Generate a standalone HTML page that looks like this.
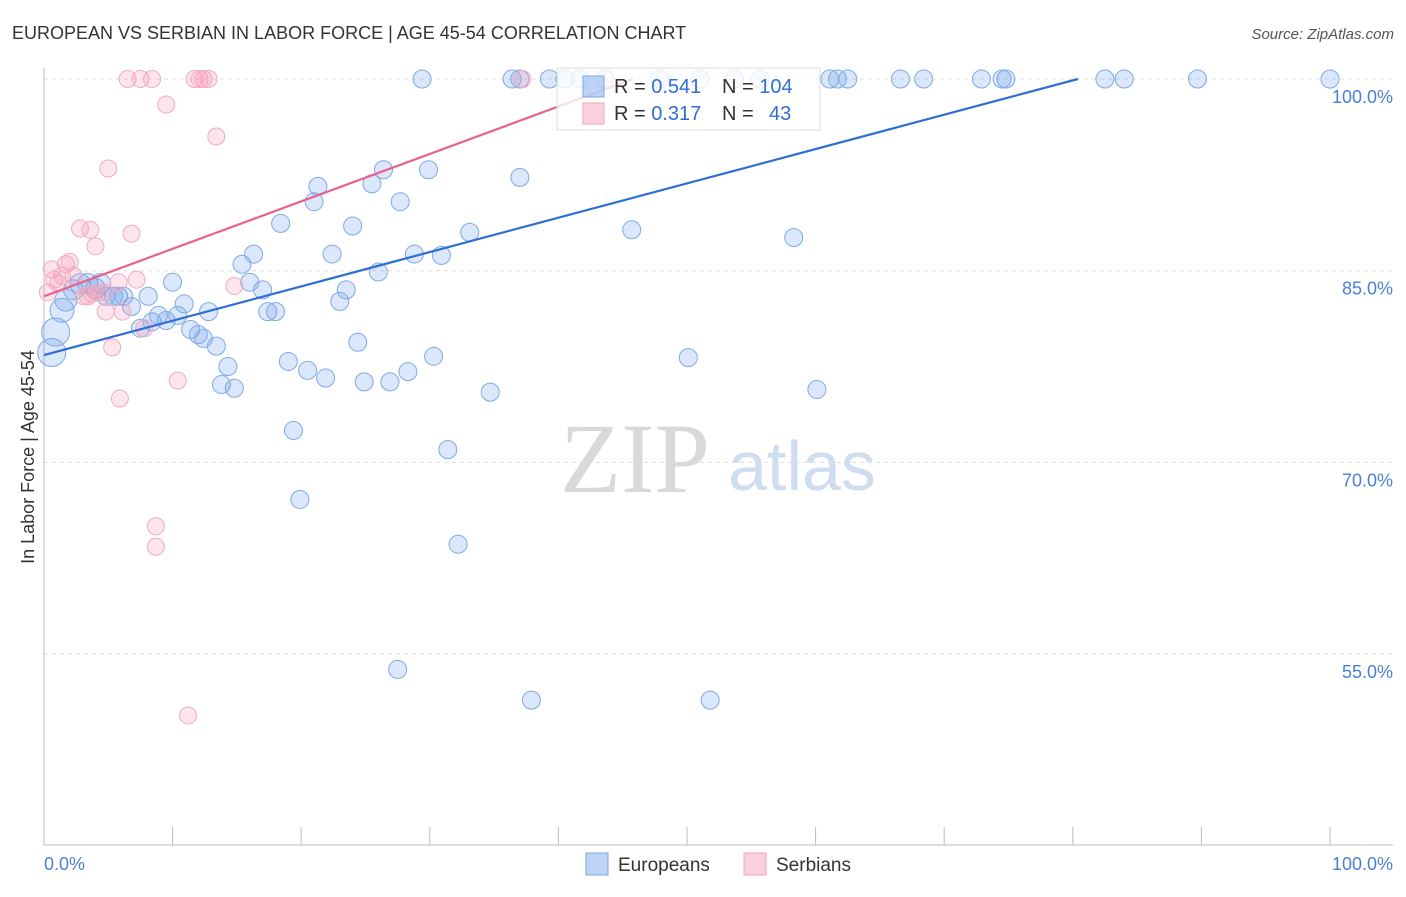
<!DOCTYPE html>
<html><head><meta charset="utf-8"><style>
body{margin:0;background:#fff;font-family:"Liberation Sans",sans-serif}
</style></head><body>
<svg width="1406" height="892" viewBox="0 0 1406 892" font-family="Liberation Sans, sans-serif">
<text x="12" y="39" font-size="18" fill="#333">EUROPEAN VS SERBIAN IN LABOR FORCE | AGE 45-54 CORRELATION CHART</text>
<text x="1394" y="39" font-size="15" fill="#555" font-style="italic" text-anchor="end">Source: ZipAtlas.com</text>
<text x="635" y="492" font-size="100" fill="#d9d9d9" style="font-family:'Liberation Serif',serif" text-anchor="middle">ZIP</text>
<text x="802" y="490" font-size="70" fill="#cfdcf2" text-anchor="middle">atlas</text>
<g id="grid"></g>
<g id="axes"></g>
<g id="pts"></g>
<g id="lines"></g>
<text transform="translate(34,457) rotate(-90)" font-size="18" fill="#333" text-anchor="middle">In Labor Force | Age 45-54</text>
<text x="44" y="870" font-size="18" fill="#4a7fd6">0.0%</text>
<text x="1393" y="870" font-size="18" fill="#4a7fd6" text-anchor="end">100.0%</text>
<g>
<rect x="557" y="68" width="263" height="62" fill="rgba(255,255,255,0.8)" stroke="#ddd"/>
<rect x="583" y="76" width="21" height="21" fill="rgba(110,160,235,0.45)" stroke="#7aa6e6"/>
<rect x="583" y="103" width="21" height="21" fill="rgba(245,150,180,0.45)" stroke="#f2a6bd"/>
<text x="614" y="93" font-size="20" fill="#333">R = <tspan fill="#2e6fd4">0.541</tspan></text>
<text x="722" y="93" font-size="20" fill="#333">N = <tspan fill="#2e6fd4">104</tspan></text>
<text x="614" y="120" font-size="20" fill="#333">R = <tspan fill="#2e6fd4">0.317</tspan></text>
<text x="722" y="120" font-size="20" fill="#333">N = <tspan fill="#2e6fd4" x="769">43</tspan></text>
</g>
<g>
<rect x="586" y="853" width="22" height="22" fill="rgba(110,160,235,0.45)" stroke="#7aa6e6"/>
<text x="618" y="871" font-size="19" fill="#333">Europeans</text>
<rect x="744" y="853" width="22" height="22" fill="rgba(245,150,180,0.45)" stroke="#f2a6bd"/>
<text x="776" y="871" font-size="19" fill="#333">Serbians</text>
</g>
</svg>
<script>
const yTicks=[100,85,70,55];
const yTickLabels=["100.0%","85.0%","70.0%","55.0%"];
const xTicks=[0,10,20,30,40,50,60,70,80,90,100];
const euroX=[29.4,36.4,37.0,39.3,40.5,41.7,43.6,47.9,51.0,53.7,55.7,61.1,61.7,62.5,66.6,68.4,72.9,74.5,74.8,82.5,84.0,89.7,100,
0.6,0.9,1.4,1.7,2.3,2.8,3.4,4.0,4.4,4.8,5.4,5.8,6.2,6.8,7.5,8.1,8.4,8.9,9.5,10.0,10.4,10.9,11.4,12.0,12.4,12.8,13.4,13.8,14.3,14.8,15.4,16.0,16.3,17.0,17.4,18.0,18.4,19.0,19.4,19.9,20.5,21.0,21.3,21.9,22.4,23.0,23.5,24.0,24.4,24.9,25.5,26.0,26.4,26.9,27.7,27.5,28.3,28.8,29.9,30.3,30.9,31.4,32.2,33.1,34.7,37.0,37.9,45.7,50.1,51.8,58.3,60.1];
const euroY=[100,100,100,100,100,100,100,100,100,100,100,100,100,100,100,100,100,100,100,100,100,100,100,
78.6,80.2,81.9,82.7,83.5,84.0,84.0,83.6,84.0,83.0,83.0,83.0,83.0,82.2,80.5,83.0,81.0,81.5,81.1,84.1,81.5,82.4,80.4,80.0,79.7,81.8,79.1,76.1,77.5,75.8,85.5,84.1,86.3,83.5,81.8,81.8,88.7,77.9,72.5,67.1,77.2,90.4,91.6,76.6,86.3,82.6,83.5,88.5,79.4,76.3,91.8,84.9,92.9,76.3,90.4,53.8,77.1,86.3,92.9,78.3,86.2,71.0,63.6,88.0,75.5,92.3,51.4,88.2,78.2,51.4,87.6,75.7];
const euroR=[9,9,9,9,9,9,9,9,9,9,9,9,9,9,9,9,9,9,9,9,9,9,9,14,14,12,11,10,10,10,10,10,9,9,9,9,9,9,9,9,9,9,9,9,9,9,9,9,9,9,9,9,9,9,9,9,9,9,9,9,9,9,9,9,9,9,9,9,9,9,9,9,9,9,9,9,9,9,9,9,9,9,9,9,9,9,9,9,9,9,9,9,9,9,9];
const serbX=[0.3,0.6,0.8,1.1,1.4,1.7,2.0,2.3,2.8,3.1,3.4,3.6,3.7,4.0,4.2,4.7,4.8,5.0,5.3,5.8,5.9,6.1,6.5,6.8,7.2,7.5,7.8,8.4,8.7,8.7,9.5,10.4,11.2,11.7,12.1,12.4,12.8,13.4,14.8,37.2];
const serbY=[83.3,85.1,84.3,84.0,84.6,85.5,85.7,84.6,88.3,83.0,83.0,88.2,83.2,86.9,83.3,83.3,81.8,93.0,79.0,84.1,75.0,81.8,100,87.9,84.3,100,80.5,100,65.0,63.4,98.0,76.4,50.2,100,100,100,100,95.5,83.8,100];
const lineX0=[0,0],lineX1=[80.4,45.8];
const lineY0=[78.4,83.0],lineY1=[100,100];
const X0=44,X1=1330,YT=79,PXY=12.78;
const sx=v=>X0+(X1-X0)*v/100, sy=v=>YT+(100-v)*PXY;
const NS="http://www.w3.org/2000/svg";
function mk(tag,attrs,parent){const e=document.createElementNS(NS,tag);for(const k in attrs)e.setAttribute(k,attrs[k]);parent.appendChild(e);return e;}
const grid=document.getElementById('grid'),axes=document.getElementById('axes'),pts=document.getElementById('pts'),lines=document.getElementById('lines');
yTicks.forEach((t,i)=>{
 const l=mk('line',{x1:44,x2:1393,y1:sy(t),y2:sy(t),stroke:'#ddd','stroke-dasharray':'4,4'},grid);
 
 
 const tx=mk('text',{x:1393,y:sy(t)+24,'font-size':18,fill:'#4a7fd6','text-anchor':'end'},grid);
 tx.textContent=yTickLabels[i];
 
 
});
const ya=mk('line',{x1:44,x2:44,y1:68,y2:845,stroke:'#bbb'},axes);


const xa=mk('line',{x1:44,x2:1393,y1:845,y2:845,stroke:'#bbb'},axes);


xTicks.forEach(t=>{
 const l=mk('line',{x1:sx(t),x2:sx(t),y1:827,y2:845,stroke:'#bbb'},axes);
 
 
});
euroX.forEach((x,i)=>{
 const c=mk('circle',{cx:sx(x),cy:sy(euroY[i]),r:euroR[i],fill:'rgba(110,160,235,0.25)',stroke:'#7fa9e6','stroke-width':1},pts);
 
 
});
serbX.forEach((x,i)=>{
 const c=mk('circle',{cx:sx(x),cy:sy(serbY[i]),r:8.5,fill:'rgba(245,150,180,0.25)',stroke:'#f2abc0','stroke-width':1},pts);
 
 
});
const cols=['#2e6fd4','#e8628e'],names=['european-trendline','serbian-trendline'];
for(let i=0;i<2;i++){
 const l=mk('line',{x1:sx(lineX0[i]),y1:sy(lineY0[i]),x2:sx(lineX1[i]),y2:sy(lineY1[i]),stroke:cols[i],'stroke-width':2.2},lines);
 
 
}
</script>
</body></html>
